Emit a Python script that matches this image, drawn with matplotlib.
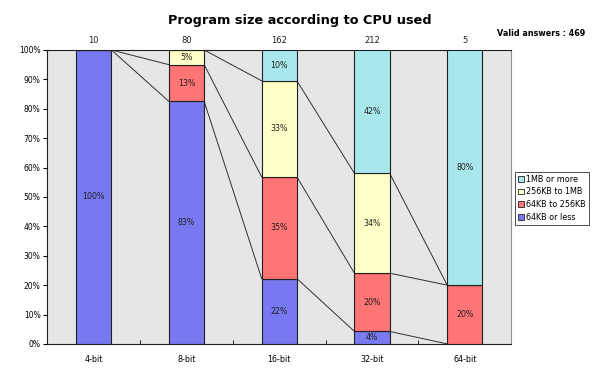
import matplotlib
matplotlib.use("Agg")
import matplotlib.pyplot as plt
import numpy as np
from matplotlib.patches import Patch

plt.rcParams['font.family'] = ['DejaVu Sans']

categories = ["4-bit", "8-bit", "16-bit", "32-bit", "64-bit"]
series_names = ["64KB or less", "64KB to 256KB", "256KB to 1MB", "1MB or more"]
less_64kb = [10, 66, 36, 9, 0]
kb64_256 = [0, 10, 56, 42, 1]
kb256_1mb = [0, 4, 53, 72, 0]
mb1_more = [0, 0, 17, 89, 4]
totals = [10, 80, 162, 212, 5]
valid_answers = 469

colors = ["#7878F0", "#FF7474", "#FFFFC8", "#A8E8EC"]

data = np.array([less_64kb, kb64_256, kb256_1mb, mb1_more], dtype=float)
pct = data / np.array(totals, dtype=float) * 100

fig = plt.figure(figsize=(6.0, 3.73), dpi=100)
ax = fig.add_axes([0.079, 0.078, 0.773, 0.788])
ax.set_facecolor("#E6E6E6")

x = np.arange(len(categories))
w = 0.38
bottom = np.zeros(len(categories))
cum_tops = []
for i in range(4):
    ax.bar(x, pct[i], w, bottom=bottom, color=colors[i], edgecolor="#202020",
           linewidth=0.8, zorder=3)
    for j in range(len(categories)):
        if pct[i, j] > 0:
            lbl = f"{int(np.floor(pct[i, j] + 0.5))}%"
            ax.text(x[j], bottom[j] + pct[i, j] / 2, lbl, ha="center", va="center",
                    fontsize=5.7, color="#202020", zorder=4)
    bottom = bottom + pct[i]
    cum_tops.append(bottom.copy())

# series lines
for tops in cum_tops:
    for j in range(len(categories) - 1):
        ax.plot([x[j] + w / 2, x[j + 1] - w / 2], [tops[j], tops[j + 1]],
                color="#303030", linewidth=0.7, zorder=2)

ax.set_xlim(-0.5, len(categories) - 0.5)
ax.set_ylim(0, 100)
ax.set_yticks(np.arange(0, 101, 10))
ax.set_yticklabels([f"{v}%" for v in range(0, 101, 10)], fontsize=5.5)
ax.set_xticks(x)
ax.set_xticklabels(categories, fontsize=5.8)
ax.tick_params(axis="x", length=0, pad=8)
ax.set_xticks(np.arange(-0.5, len(categories), 1.0), minor=True)
ax.tick_params(axis="x", which="minor", length=3, direction="in")
ax.tick_params(axis="y", length=3, direction="out", pad=2)
for s in ["left", "bottom", "top"]:
    ax.spines[s].set_color("#202020")
    ax.spines[s].set_linewidth(0.8)
ax.spines["right"].set_color("#909090")

for j in range(len(categories)):
    ax.text(x[j], 101.8, str(totals[j]), ha="center", va="bottom", fontsize=6,
            color="#202020")

fig.text(0.5, 0.945, "Program size according to CPU used", ha="center", va="center",
         fontsize=9.3, fontweight="bold")
fig.text(0.975, 0.91, f"Valid answers : {valid_answers}", ha="right", va="center",
         fontsize=5.8, fontweight="bold")

handles = [Patch(facecolor=colors[i], edgecolor="#202020", linewidth=0.6)
           for i in range(3, -1, -1)]
labels = [series_names[i] for i in range(3, -1, -1)]
leg = fig.legend(handles, labels, loc="upper left", bbox_to_anchor=(0.858, 0.54),
                 fontsize=5.8, frameon=True, fancybox=False, edgecolor="#202020",
                 handlelength=0.7, handleheight=0.7, handletextpad=0.3,
                 borderpad=0.4, labelspacing=0.45, borderaxespad=0)
leg.get_frame().set_linewidth(0.7)

fig.savefig("out.png", dpi=100)
